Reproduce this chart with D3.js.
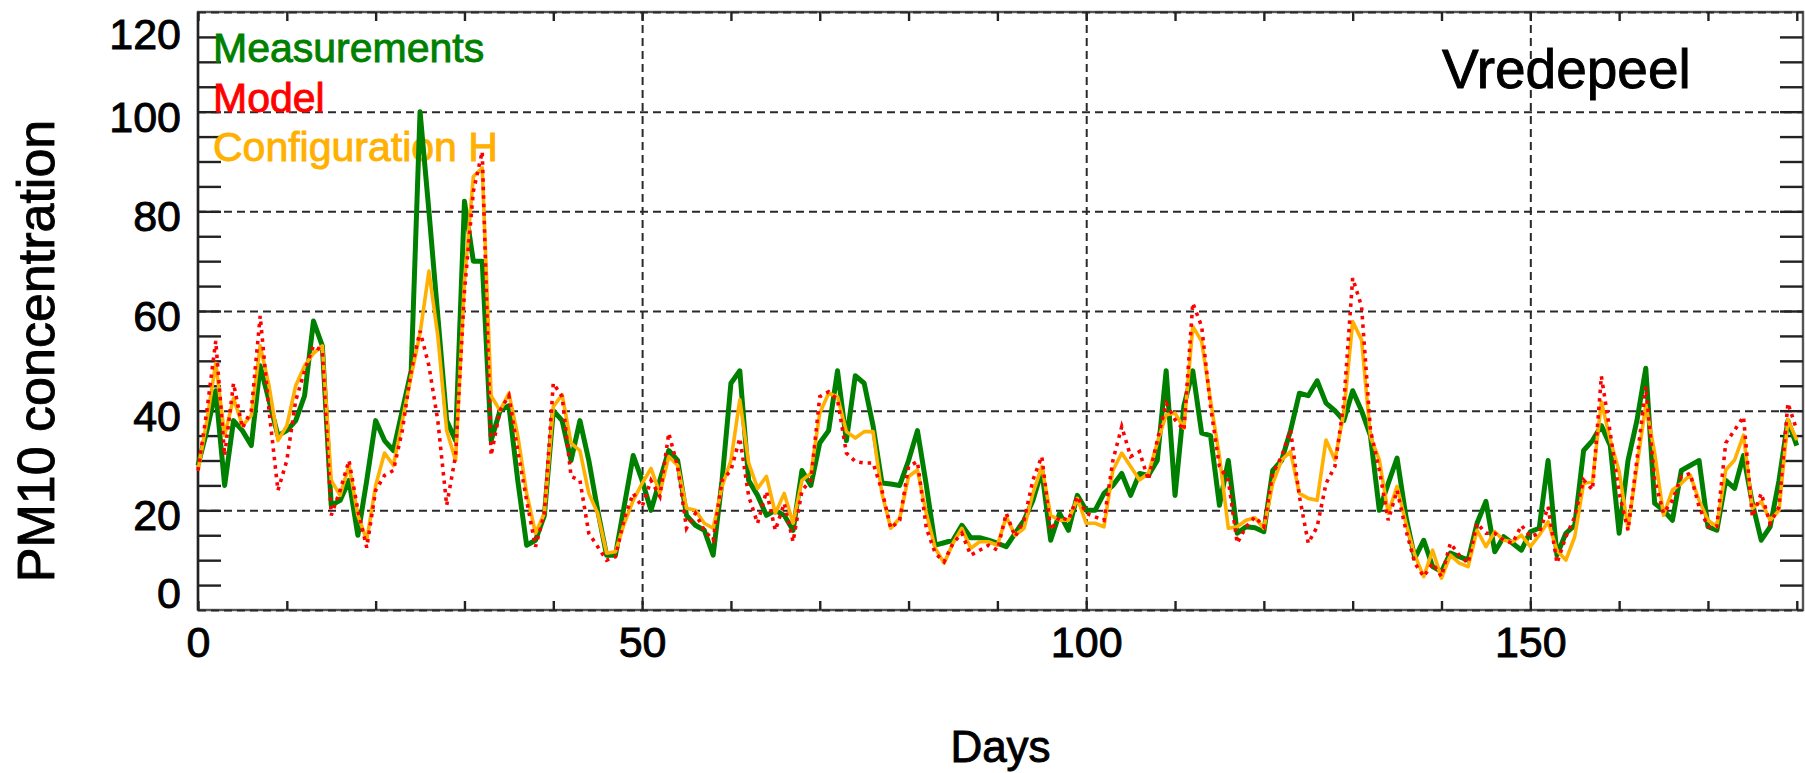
<!DOCTYPE html>
<html>
<head>
<meta charset="utf-8">
<script src="https://cdn.jsdelivr.net/npm/d3@7"></script>
<style>
  html, body { margin: 0; padding: 0; background: #fff; }
  svg { display: block; }
  text { font-family: "Liberation Sans", Helvetica, Arial, sans-serif; }
</style>
</head>
<body>
<div id="chart"></div>
<script>
// daily PM10 at Vredepeel, day 0..180
const measurements = [
  29, 36, 44, 25, 38, 36, 33, 49, 42, 35,
  36, 38, 43, 58, 53, 21, 22, 26, 15, 26,
  38, 34, 32, 40, 48, 100, 80, 59, 38, 34,
  82, 70, 70, 34, 40, 41, 26, 13, 14, 19,
  40, 38, 30, 38, 30, 20, 11, 11, 21, 31,
  26, 20, 26, 32, 30, 19, 17, 16, 11, 26,
  45.5, 48, 26, 23, 19, 20, 19, 16, 28, 25,
  33.5, 36, 48, 34, 47, 45.5, 37, 25.5, 25.3, 25,
  30, 36, 25, 13, 13.5, 14, 17, 14.5, 14.5, 14,
  13.4, 12.7, 15.4, 18, 22, 28, 14, 19.4, 16, 23,
  20, 20, 23.4, 25, 27.4, 23, 27.4, 27, 30, 48,
  23, 41, 48, 35.5, 35, 21, 30, 15.4, 16.7, 16.5,
  15.7, 28, 30, 36, 43.5, 43, 46, 41.5, 40, 38,
  44, 40, 35, 20, 25.4, 30.5, 18.7, 10.4, 14, 8.7,
  7.7, 11.4, 10.7, 10, 17.4, 21.8, 11.7, 14.7, 13.4, 12,
  15.7, 16.4, 30, 11, 15.4, 17, 32, 34, 37, 33,
  15.4, 30, 38, 48.5, 21.4, 20, 18, 28, 29, 30,
  16.7, 16, 26, 24.4, 31, 21.4, 14, 16.7, 26, 38,
  33
];

const model = [
  28, 40, 54, 31, 45.5, 36.5, 40, 59, 40, 24,
  30, 42, 48, 53, 52, 19, 24, 30, 20, 12.5,
  24, 27, 28, 36, 48, 56, 49, 38, 21, 31,
  64, 84, 92, 31, 40, 43, 32, 22, 12.7, 19.4,
  45.5, 42.8, 26.8, 26, 15.4, 12.7, 10, 10.7, 18.4, 23.4,
  20.7, 26, 22.8, 35.5, 28.8, 16.4, 19.4, 16, 14, 26,
  28, 34.5, 22.8, 17.4, 23.8, 16, 21.4, 13.7, 24, 26,
  42.8, 43.8, 42.2, 31.5, 29.8, 29.5, 29.5, 24, 16.4, 18,
  28.8, 29.8, 16.4, 11.4, 9.7, 13.4, 15.4, 11, 12, 13,
  12, 19.4, 14.7, 18, 26.1, 30.8, 16, 18.7, 18, 22.8,
  19.4, 18.7, 18, 30, 36.8, 30.8, 31.8, 26.1, 34, 41.5,
  38.2, 36.1, 61.6, 56.9, 40.8, 28.8, 26, 13.4, 16.7, 18.7,
  16.7, 27.4, 30.8, 36.1, 22.8, 13.4, 16.7, 25.4, 28.8, 41.5,
  66.6, 60.9, 36.1, 28.1, 18, 24, 16, 9.4, 6.7, 9.4,
  6.7, 13.4, 11, 9.4, 17.4, 15.4, 15.4, 14, 13.4, 17,
  14.7, 15.4, 20.7, 9.4, 14.7, 18.7, 26.1, 24.1, 46.9, 35.5,
  23.4, 16, 30.1, 44.8, 26.1, 19.4, 22, 26.8, 27.4, 20.7,
  16.7, 16.7, 33.5, 36.1, 38.8, 18.7, 23.4, 17.4, 20.7, 41.5,
  36.1
];

const configH = [
  28, 38, 49.5, 35, 42.5, 37, 39, 53, 45, 34,
  37, 45, 49, 51.5, 53, 26, 23, 29, 19, 14,
  25, 31.5, 29, 38, 47, 55.5, 68, 55, 36, 30,
  66, 87, 88.7, 43, 40, 43.5, 35, 23.4, 15.4, 19.4,
  40.8, 43.2, 33.5, 32, 23.4, 19.4, 11.4, 11.7, 17.4, 22,
  25.4, 28.4, 23.4, 30.8, 29, 20.4, 20, 17.4, 16.4, 24.8,
  30, 42.2, 29.5, 24.4, 26.8, 19.4, 23.4, 17.4, 26, 27.4,
  39.5, 43.5, 42.8, 35.8, 34.5, 35.8, 35.8, 23.4, 16.4, 18.4,
  26.8, 28.1, 19.4, 12.4, 9.4, 13.4, 16.4, 12.4, 13.7, 13.7,
  13, 18.7, 15, 16.4, 23.4, 28.8, 19, 18, 18, 22.4,
  17.4, 17.4, 16.7, 28, 31.5, 28.8, 26.1, 27.4, 33.5, 39.2,
  39.5, 36.5, 56.9, 53.9, 42, 30.8, 16.4, 16.7, 18, 18.5,
  16.4, 25.4, 30.1, 31.8, 23.4, 22.4, 22, 34.1, 30.1, 39.5,
  57.9, 54.2, 34.8, 30.1, 19.4, 24.8, 17.4, 11, 6.7, 12,
  6.4, 11, 9.4, 8.7, 16, 12.7, 15.7, 14, 13.7, 15,
  12.7, 15, 17.7, 12, 10, 14.7, 25.4, 25.8, 41.8, 34.1,
  27.8, 16.4, 28.8, 41.2, 31.5, 19, 24.1, 25.4, 27.1, 22,
  18, 16.7, 28.1, 30.1, 35.1, 20.4, 21.8, 18, 20, 38.2,
  34.1
];

const yTicks = [0, 20, 40, 60, 80, 100, 120];
const xTicks = [0, 50, 100, 150];
const legendNames = ["Measurements", "Model", "Configuration H"];
const stationName = "Vredepeel";

const W = 1805, H = 773;
const margin = { top: 12, right: 2, bottom: 163, left: 198 };
const iw = W - margin.left - margin.right;
const ih = H - margin.top - margin.bottom;

const svg = d3.select("#chart").append("svg")
    .attr("width", W)
    .attr("height", H);

const g = svg.append("g")
    .attr("transform", `translate(${margin.left},${margin.top})`);

const x = d3.scaleLinear().domain([0, 180.7]).range([0, iw]);
const y = d3.scaleLinear().domain([0, 120]).range([ih, 0]);

const gridColor = "#2a2a2a";

// frame (light), dashed grid goes on top of it
g.append("rect")
    .attr("width", iw).attr("height", ih)
    .attr("fill", "none")
    .attr("stroke", "#555")
    .attr("stroke-width", 2.4);

g.append("g")
    .call(d3.axisLeft(y).tickValues([0, 20, 40, 60, 80, 100, 120]).tickSize(-iw).tickFormat(""))
    .call(s => s.select(".domain").remove())
    .selectAll("line")
    .attr("stroke", gridColor)
    .attr("stroke-width", 2)
    .attr("stroke-dasharray", "8,5");

g.append("g")
    .call(d3.axisBottom(x).tickValues([50, 100, 150]).tickSize(ih).tickFormat(""))
    .call(s => s.select(".domain").remove())
    .selectAll("line")
    .attr("stroke", gridColor)
    .attr("stroke-width", 2)
    .attr("stroke-dasharray", "8,5");

// left axis is drawn solid
g.append("line")
    .attr("x1", 0).attr("x2", 0).attr("y1", 0).attr("y2", ih)
    .attr("stroke", "#222").attr("stroke-width", 2.4);

// minor ticks
const yMinor = d3.range(5, 120, 5);
const xMinor = d3.range(0, 181, 10);

const tickStyle = sel => {
    sel.select(".domain").remove();
    sel.selectAll("line").attr("stroke", "#222").attr("stroke-width", 2.4);
};

g.append("g").call(d3.axisRight(y).tickValues(yMinor).tickSize(23).tickFormat("")).call(tickStyle);
g.append("g").attr("transform", `translate(${iw},0)`)
    .call(d3.axisLeft(y).tickValues(yMinor).tickSize(23).tickFormat("")).call(tickStyle);
g.append("g").attr("transform", `translate(0,${ih})`)
    .call(d3.axisTop(x).tickValues(xMinor).tickSize(9).tickFormat("")).call(tickStyle);
g.append("g")
    .call(d3.axisBottom(x).tickValues(xMinor).tickSize(9).tickFormat("")).call(tickStyle);

// text looks a little heavier in the original, thicken with a thin stroke
const heavy = (sel, col) => sel.attr("fill", col).attr("stroke", col).attr("stroke-width", 0.9);

// tick labels
const yAx = g.append("g")
    .call(d3.axisLeft(y).tickValues(yTicks).tickSize(0).tickPadding(17));
yAx.select(".domain").remove();
yAx.selectAll("text")
    .call(heavy, "#000")
    .style("font-size", "43px")
    .attr("dy", d => d === 120 ? "0.85em" : d === 0 ? "-0.05em" : "0.45em");

const xAx = g.append("g")
    .attr("transform", `translate(0,${ih})`)
    .call(d3.axisBottom(x).tickValues(xTicks).tickSize(0).tickPadding(16));
xAx.select(".domain").remove();
xAx.selectAll("text").call(heavy, "#000").style("font-size", "43px");

// axis titles
svg.append("text")
    .attr("x", margin.left + x(90.35))
    .attr("y", 762)
    .attr("text-anchor", "middle")
    .style("font-size", "44px")
    .call(heavy, "#000")
    .text("Days");

svg.append("text")
    .attr("transform", "translate(54,351) rotate(-90)")
    .attr("text-anchor", "middle")
    .style("font-size", "52px")
    .call(heavy, "#000")
    .text("PM10 concentration");

// legend + station
const colors = ["#008000", "#ff0000", "#ffb000"];
g.selectAll(".legend")
    .data(legendNames)
    .enter().append("text")
    .attr("class", "legend")
    .attr("x", 15)
    .attr("y", (d, i) => 50 + i * 49.5)
    .style("font-size", "41px")
    .each(function (d, i) { heavy(d3.select(this), colors[i]); })
    .text(d => d);

g.append("text")
    .attr("x", 1244)
    .attr("y", 76)
    .style("font-size", "55px")
    .call(heavy, "#000")
    .text(stationName);

// series
const line = d3.line().x((d, i) => x(i)).y(d => y(d));

g.append("path").datum(measurements)
    .attr("fill", "none").attr("stroke", colors[0])
    .attr("stroke-width", 5).attr("stroke-linejoin", "round")
    .attr("d", line);

g.append("path").datum(configH)
    .attr("fill", "none").attr("stroke", colors[2])
    .attr("stroke-width", 3.6).attr("stroke-linejoin", "round")
    .attr("d", line);

g.append("path").datum(model)
    .attr("fill", "none").attr("stroke", colors[1])
    .attr("stroke-width", 3.6).attr("stroke-dasharray", "3.5,5")
    .attr("d", line);
</script>
</body>
</html>
